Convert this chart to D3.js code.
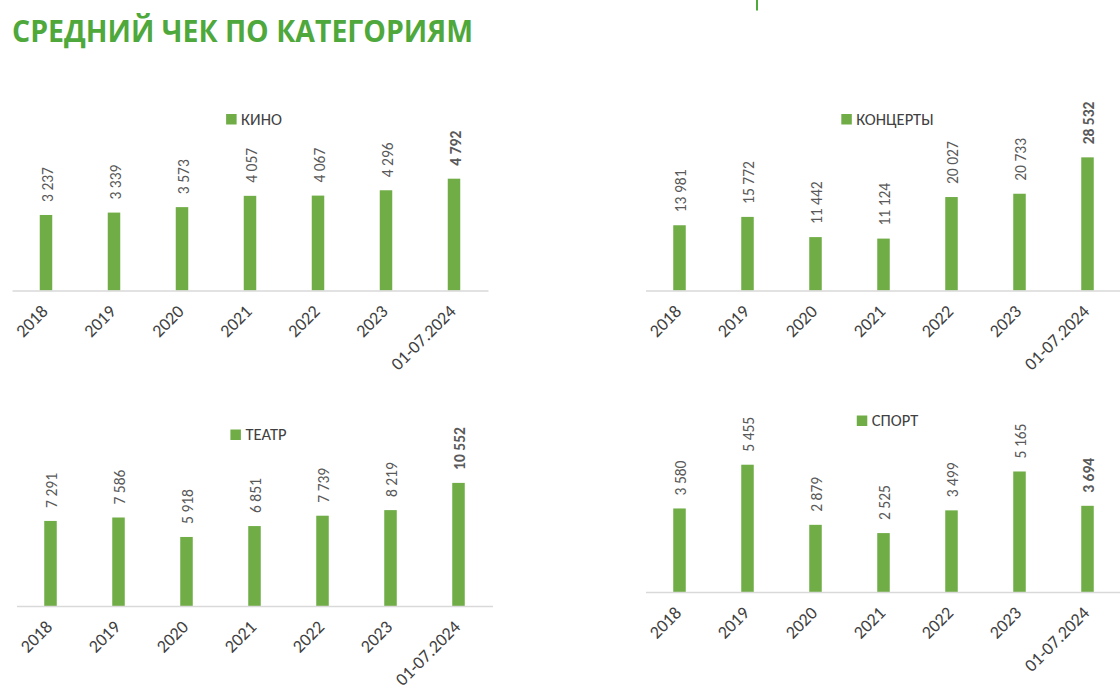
<!DOCTYPE html>
<html>
<head>
<meta charset="utf-8">
<script src="https://cdn.jsdelivr.net/npm/d3@7"></script>
<style>
  html, body { margin: 0; padding: 0; background: #ffffff; }
  svg { display: block; }
</style>
</head>
<body>
<svg id="chart" width="1120" height="693"></svg>
<script>
// ---- data ----
const categories = ["2018", "2019", "2020", "2021", "2022", "2023", "01-07.2024"];
const kino = [3237, 3339, 3573, 4057, 4067, 4296, 4792];
const koncerty = [13981, 15772, 11442, 11124, 20027, 20733, 28532];
const teatr = [7291, 7586, 5918, 6851, 7739, 8219, 10552];
const sport = [3580, 5455, 2879, 2525, 3499, 5165, 3694];
const seriesNames = ["КИНО", "КОНЦЕРТЫ", "ТЕАТР", "СПОРТ"];
const axisMax = [6000, 30000, 12000, 6000];
const titleText = "СРЕДНИЙ ЧЕК ПО КАТЕГОРИЯМ";

// ---- layout ----
const seriesList = [kino, koncerty, teatr, sport];
const layout = [
  { x0: 12,    x1: 488,    base: 290.5 },
  { x0: 645.5, x1: 1121.5, base: 290.5 },
  { x0: 16.5,  x1: 492.5,  base: 606 },
  { x0: 645.5, x1: 1121.5, base: 592 }
];
const plotH = 140;
const barColor = "#70AD47";
const labelFont = "Carlito, Calibri, Lato, 'Open Sans', sans-serif";

const svg = d3.select("#chart");

// title
svg.append("text")
  .attr("x", 12).attr("y", 42)
  .attr("font-family", "'Open Sans', sans-serif")
  .attr("font-weight", 700)
  .attr("font-size", 30)
  .attr("fill", "#4EA83C")
  .attr("textLength", 461)
  .attr("lengthAdjust", "spacingAndGlyphs")
  .text(titleText);

// small mark at top
svg.append("line")
  .attr("x1", 757).attr("x2", 757).attr("y1", 0).attr("y2", 10.5)
  .attr("stroke", "#4EA83C").attr("stroke-width", 2);

seriesList.forEach((vals, i) => {
  const L = layout[i];
  const g = svg.append("g");
  const x = d3.scaleBand().domain(categories).range([L.x0, L.x1]).paddingInner(0.82).paddingOuter(0.41);
  const y = d3.scaleLinear().domain([0, axisMax[i]]).range([L.base, L.base - plotH]);
  const xc = c => x(c) + x.bandwidth() / 2;

  // bars
  g.selectAll("rect.bar").data(vals).join("rect")
    .attr("class", "bar")
    .attr("x", (d, j) => xc(categories[j]) - 6.25)
    .attr("width", 12.5)
    .attr("y", d => y(d))
    .attr("height", d => L.base - y(d))
    .attr("fill", barColor);

  // axis line
  const axis = d3.axisBottom(x).tickSize(0).tickFormat("");
  const ag = g.append("g").attr("transform", `translate(0,${L.base})`).call(axis);
  ag.select(".domain").attr("stroke", "#D9D9D9").attr("stroke-width", 1.5);

  // category labels
  g.selectAll("text.cat").data(categories).join("text")
    .attr("class", "cat")
    .attr("transform", c => `translate(${xc(c) + 3},${L.base + 22}) rotate(-45)`)
    .attr("text-anchor", "end")
    .attr("font-family", labelFont)
    .attr("font-size", 18)
    .attr("fill", "#404040")
    .text(c => c);

  // value labels
  g.selectAll("text.val").data(vals).join("text")
    .attr("class", "val")
    .attr("transform", (d, j) => `translate(${xc(categories[j]) + 6.5},${y(d) - 13}) rotate(-90)`)
    .attr("text-anchor", "start")
    .attr("font-family", labelFont)
    .attr("font-size", 15.5)
    .attr("font-weight", (d, j) => j === vals.length - 1 ? 700 : 400)
    .attr("fill", "#595959")
    .text(d => d3.format(",")(d).replace(/,/g, " "));

  // legend
  const lg = g.append("g");
  const lt = lg.append("text")
    .attr("x", 15).attr("y", 0).attr("dy", "0.35em")
    .attr("font-family", labelFont)
    .attr("font-size", 16.5)
    .attr("fill", "#404040")
    .text(seriesNames[i]);
  lg.append("rect").attr("x", 0).attr("y", -5).attr("width", 10.5).attr("height", 10.5).attr("fill", barColor);
  const w = 15 + lt.node().getComputedTextLength();
  const cx = (L.x0 + L.x1) / 2 + 4;
  lg.attr("transform", `translate(${cx - w / 2},${L.base - 171.5})`);
});
</script>
</body>
</html>
